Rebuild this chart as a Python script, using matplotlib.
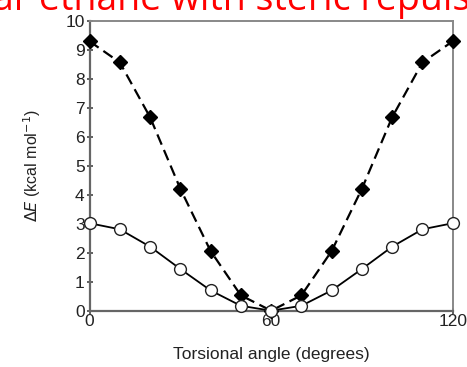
import matplotlib.pyplot as plt

# data
angle = [0, 10, 20, 30, 40, 50, 60, 70, 80, 90, 100, 110, 120]
steric = [9.3, 8.57, 6.68, 4.21, 2.06, 0.53, 0, 0.53, 2.06, 4.21, 6.68, 8.57, 9.3]
plain = [3.02, 2.81, 2.21, 1.44, 0.70, 0.17, 0, 0.17, 0.70, 1.44, 2.21, 2.81, 3.02]
x_ticks = [0, 60, 120]
y_ticks = [0, 1, 2, 3, 4, 5, 6, 7, 8, 9, 10]

plt.rcParams['font.family'] = ['Liberation Sans', 'DejaVu Sans']

fig = plt.figure(figsize=(4.67, 3.67), dpi=100)
ax = fig.add_axes([0.1917, 0.1534, 0.7777, 0.7894])

#1. dashed curve with black diamonds
ax.plot(angle, steric, color="black", linestyle=(0, (5, 2.6)), linewidth=1.6,
        marker="D", markersize=7, markerfacecolor="black", markeredgecolor="black",
        clip_on=False, zorder=3)
#2. solid curve with open circles
ax.plot(angle, plain, color="black", linestyle="-", linewidth=1.3,
        marker="o", markersize=8.5, markerfacecolor="white", markeredgecolor="#222222",
        markeredgewidth=1.0, clip_on=False, zorder=4)

ax.set_xlim(0, 120)
ax.set_ylim(0, 10)
ax.set_xticks(x_ticks)
ax.set_yticks(y_ticks)
ax.tick_params(direction="inout", length=5, width=1.2, colors="#444444",
               labelcolor="#222222", labelsize=12.5)
ax.tick_params(axis="x", pad=0)
ax.tick_params(axis="y", pad=1)
for side in ["left", "bottom"]:
    ax.spines[side].set_color("#666666")
    ax.spines[side].set_linewidth(1.6)
for side in ["top", "right"]:
    ax.spines[side].set_color("#888888")
    ax.spines[side].set_linewidth(1.4)

ax.set_xlabel("Torsional angle (degrees)", fontsize=12.5, color="#222222", labelpad=13)
ax.set_ylabel(r"$\Delta \mathit{E}$ (kcal mol$^{-1}$)", fontsize=11.5, color="#222222", labelpad=16)

# cut-off slide title at the top
fig.text(-0.015, 1 - 10 / 367, "ar ethane with steric repulsion", color="#ff0000",
         fontsize=27, family=["Open Sans", "DejaVu Sans"], ha="left", va="baseline")

fig.savefig("out.png", dpi=100)
